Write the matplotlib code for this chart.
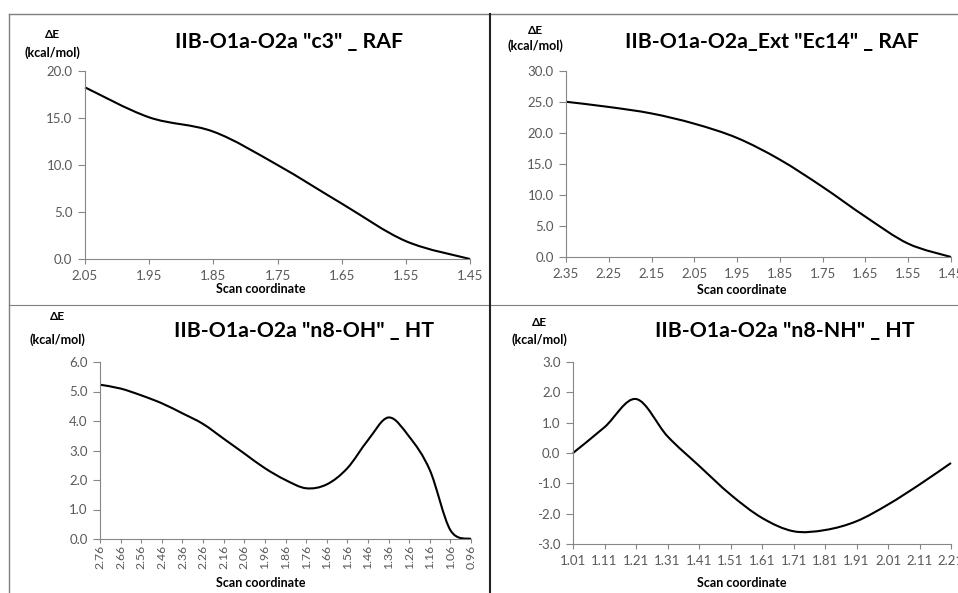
import numpy as np
import matplotlib
matplotlib.use("Agg")
import matplotlib.pyplot as plt
from matplotlib.path import Path
from matplotlib.patches import PathPatch
from matplotlib.lines import Line2D

plt.rcParams['font.family'] = ['Lato', 'DejaVu Sans']

# ------------------------
# Data
# ------------------------
c3_x = [2.05, 1.95, 1.85, 1.75, 1.65, 1.55, 1.45]
c3_y = [18.26, 15.07, 13.55, 10.0, 5.9, 1.9, 0.0]

ec14_x = [2.35, 2.25, 2.15, 2.05, 1.95, 1.85, 1.75, 1.65, 1.55, 1.45]
ec14_y = [25.04, 24.2, 23.15, 21.5, 19.2, 15.7, 11.3, 6.5, 2.15, 0.0]

n8oh_x = [2.76, 2.66, 2.56, 2.46, 2.36, 2.26, 2.16, 2.06, 1.96, 1.86,
          1.76, 1.66, 1.56, 1.46, 1.36, 1.26, 1.16, 1.06, 0.96]
n8oh_y = [5.23, 5.1, 4.87, 4.6, 4.26, 3.9, 3.4, 2.9, 2.4, 2.0,
          1.72, 1.85, 2.4, 3.35, 4.12, 3.47, 2.34, 0.3, 0.0]

n8nh_x = [1.01, 1.11, 1.21, 1.31, 1.41, 1.51, 1.61, 1.71, 1.81, 1.91, 2.01, 2.11, 2.21]
n8nh_y = [0.0, 0.85, 1.78, 0.55, -0.42, -1.37, -2.14, -2.58, -2.54, -2.25, -1.70, -1.04, -0.33]

c3_ticks = [2.05, 1.95, 1.85, 1.75, 1.65, 1.55, 1.45]
ec14_ticks = [2.35, 2.25, 2.15, 2.05, 1.95, 1.85, 1.75, 1.65, 1.55, 1.45]
n8oh_ticks = [2.76, 2.66, 2.56, 2.46, 2.36, 2.26, 2.16, 2.06, 1.96, 1.86,
              1.76, 1.66, 1.56, 1.46, 1.36, 1.26, 1.16, 1.06, 0.96]
n8nh_ticks = [1.01, 1.11, 1.21, 1.31, 1.41, 1.51, 1.61, 1.71, 1.81, 1.91, 2.01, 2.11, 2.21]

titles = ['IIB-O1a-O2a "c3" _ RAF', 'IIB-O1a-O2a_Ext "Ec14" _ RAF',
          'IIB-O1a-O2a "n8-OH" _ HT', 'IIB-O1a-O2a "n8-NH" _ HT']

W, H = 958, 593
GRAY = '#868686'
TICKC = '#595959'


def smooth_path(x, y):
    # Excel-like smoothed line: cubic Bezier through the points
    pts = np.column_stack([x, y]).astype(float)
    n = len(pts)
    verts = [pts[0]]
    codes = [Path.MOVETO]
    for i in range(n - 1):
        p0 = pts[i - 1] if i > 0 else pts[i]
        p1 = pts[i]
        p2 = pts[i + 1]
        p3 = pts[i + 2] if i + 2 < n else pts[i + 1]
        verts += [p1 + (p2 - p0) / 6, p2 - (p3 - p1) / 6, p2]
        codes += [Path.CURVE4] * 3
    return Path(verts, codes)


def px_axes(fig, l, r, t, b):
    return fig.add_axes([l / W, 1 - b / H, (r - l) / W, (b - t) / H])


def ftext(fig, x, y, s, **kw):
    fig.text(x / W, 1 - y / H, s, ha='center', va='center', **kw)


def setup(ax, x, y, xlim, ylim, xticks, yticks, rot=0):
    ax.add_patch(PathPatch(smooth_path(x, y), fill=False, lw=1.5,
                           edgecolor='black', clip_on=False))
    ax.set_xlim(*xlim)
    ax.set_ylim(*ylim)
    ax.set_xticks(xticks)
    ax.set_xticklabels([f"{t:.2f}" for t in xticks], rotation=rot)
    ax.set_yticks(yticks)
    ax.set_yticklabels([f"{t:.1f}" for t in yticks])
    for s in ['top', 'right']:
        ax.spines[s].set_visible(False)
    for s in ['left', 'bottom']:
        ax.spines[s].set_color(GRAY)
        ax.spines[s].set_linewidth(0.8)
    ax.tick_params(colors=GRAY, labelcolor=TICKC, labelsize=9.5,
                   width=0.8, direction='out')
    ax.tick_params(axis='y', length=5, pad=4)
    if rot:
        ax.tick_params(axis='x', length=3, pad=1.5, labelsize=8.8)
    else:
        ax.tick_params(axis='x', length=3.5, pad=4.5)
    ax.patch.set_alpha(0)


fig = plt.figure(figsize=(W / 100, H / 100), dpi=100)

ax1 = px_axes(fig, 85, 470, 71, 259)
setup(ax1, c3_x, c3_y, (2.05, 1.45), (0, 20), c3_ticks, np.arange(0, 20.1, 5))

ax2 = px_axes(fig, 566, 951, 71, 257)
setup(ax2, ec14_x, ec14_y, (2.35, 1.45), (0, 30), ec14_ticks, np.arange(0, 30.1, 5))

ax3 = px_axes(fig, 100, 471, 362, 539)
setup(ax3, n8oh_x, n8oh_y, (2.76, 0.96), (0, 6), n8oh_ticks, np.arange(0, 6.1, 1), rot=90)

ax4 = px_axes(fig, 573, 951, 362, 544)
setup(ax4, n8nh_x, n8nh_y, (1.01, 2.21), (-3, 3), n8nh_ticks, np.arange(-3, 3.1, 1))

# titles and axis captions
ftext(fig, 289, 42, titles[0], fontsize=15.3, fontweight='bold')
ftext(fig, 772, 42, titles[1], fontsize=15.3, fontweight='bold')
ftext(fig, 304, 331, titles[2], fontsize=15.3, fontweight='bold')
ftext(fig, 785, 331, titles[3], fontsize=15.3, fontweight='bold')

for (x, y1, y2) in [(52, 35, 53), (535, 31, 46), (57, 317, 340), (539, 323, 340)]:
    ftext(fig, x, y1, 'ΔE', fontsize=8.5, fontweight='bold')
    ftext(fig, x, y2, '(kcal/mol)', fontsize=9, fontweight='bold')

for (x, y) in [(261, 289), (742, 290), (261, 583), (742, 583)]:
    ftext(fig, x, y, 'Scan coordinate', fontsize=9, fontweight='bold')

# panel frame lines
fig.add_artist(Line2D([9 / W, 1], [1 - 14 / H] * 2, color='#7f7f7f', lw=1))
fig.add_artist(Line2D([9 / W] * 2, [0, 1 - 14 / H], color='#7f7f7f', lw=1))
fig.add_artist(Line2D([9 / W, 1], [1 - 305 / H] * 2, color='#7f7f7f', lw=0.8))
fig.add_artist(Line2D([490 / W] * 2, [0, 1 - 14 / H], color='#222222', lw=1.5))

fig.savefig('out.png', dpi=100, facecolor='white')
